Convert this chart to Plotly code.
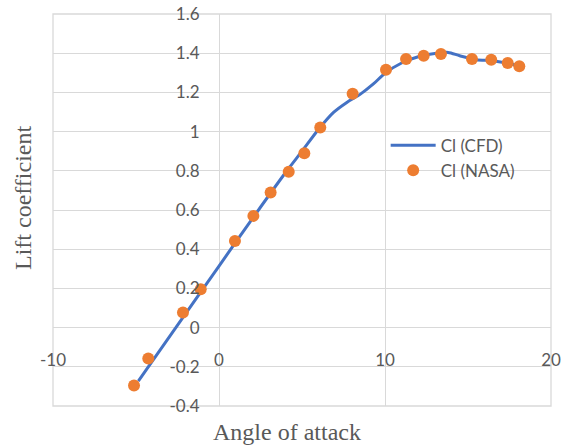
import plotly.graph_objects as go

# CFD curve
alpha_cfd = [-4.86, -2, 0, 2, 4, 5, 6, 6.9, 7.7, 8.5, 9.3, 10, 11, 12, 13, 13.8, 14.5, 15.5, 16.5, 17.3, 18.1]
cl_cfd = [-0.273, 0.073, 0.314, 0.555, 0.79, 0.90, 1.012, 1.098, 1.149, 1.19, 1.243, 1.298, 1.35, 1.382, 1.398, 1.404, 1.387, 1.367, 1.362, 1.35, 1.336]

# NASA experimental points
alpha_nasa = [-5.12, -4.26, -2.17, -1.10, 0.96, 2.07, 3.11, 4.20, 5.14, 6.10, 8.05, 10.06, 11.27, 12.33, 13.37, 15.24, 16.40, 17.39, 18.09]
cl_nasa = [-0.295, -0.158, 0.077, 0.196, 0.442, 0.570, 0.689, 0.795, 0.890, 1.021, 1.193, 1.316, 1.370, 1.387, 1.396, 1.370, 1.367, 1.350, 1.333]

x_tickvals = [-10, 0, 10, 20]
x_ticktext = ["-10", "0", "10", "20"]
y_tickvals = [-0.4, -0.2, 0, 0.2, 0.4, 0.6, 0.8, 1.0, 1.2, 1.4, 1.6]
y_ticktext = ["-0.4", "-0.2", "0", "0.2", "0.4", "0.6", "0.8", "1", "1.2", "1.4", "1.6"]

GRID = "#D9D9D9"
TXT = "#595959"

fig = go.Figure()
fig.add_trace(go.Scatter(
    x=alpha_cfd, y=cl_cfd, mode="lines", name="Cl (CFD)",
    line=dict(color="#4472C4", width=3, shape="spline", smoothing=0.8),
))
fig.add_trace(go.Scatter(
    x=alpha_nasa, y=cl_nasa, mode="markers", name="Cl (NASA)",
    marker=dict(color="#ED7D31", size=12, line=dict(width=0)),
))

fig.update_layout(
    width=564, height=448,
    margin=dict(l=53, r=13, t=14, b=42, autoexpand=False),
    paper_bgcolor="white", plot_bgcolor="white",
    font=dict(family="Lato", size=17, color=TXT),
    showlegend=True,
    legend=dict(x=0.668, y=0.71, xanchor="left", yanchor="top",
                bgcolor="rgba(0,0,0,0)", font=dict(size=17, color=TXT),
                tracegroupgap=0, itemwidth=45),
    xaxis=dict(range=[-10, 20], tickvals=x_tickvals, ticktext=x_ticktext,
               showgrid=True, gridcolor=GRID, gridwidth=1.3,
               zeroline=True, zerolinecolor=GRID, zerolinewidth=1.3,
               showline=False, anchor="free", position=0.2, automargin=False,
               ticks="outside", ticklen=17, tickcolor="rgba(0,0,0,0)",
               tickfont=dict(size=17, color=TXT)),
    yaxis=dict(range=[-0.4, 1.6], tickvals=y_tickvals, ticktext=y_ticktext,
               showgrid=True, gridcolor=GRID, gridwidth=1.3,
               zeroline=True, zerolinecolor=GRID, zerolinewidth=1.3,
               showline=False, anchor="free", position=1/3, automargin=False,
               ticks="outside", ticklen=16, tickcolor="rgba(0,0,0,0)",
               tickfont=dict(size=17, color=TXT)),
    shapes=[dict(type="rect", xref="paper", yref="paper", x0=0, x1=1, y0=0, y1=1,
                 line=dict(color=GRID, width=1.3), layer="below")],
    annotations=[
        dict(text="Angle of attack", xref="paper", yref="paper",
             x=(286.5 - 53) / 498, y=(406 - 432) / 392, xanchor="center", yanchor="middle",
             showarrow=False, font=dict(family="Liberation Serif", size=24, color=TXT)),
        dict(text="Lift coefficient", xref="paper", yref="paper",
             x=(23 - 53) / 498, y=(406 - 198) / 392, xanchor="center", yanchor="middle",
             textangle=-90, showarrow=False,
             font=dict(family="Liberation Serif", size=24, color=TXT)),
    ],
)

fig.write_html("out.html",
               config={"displayModeBar": False},
               post_script="document.body.style.margin='0px';document.body.style.overflow='hidden';")
